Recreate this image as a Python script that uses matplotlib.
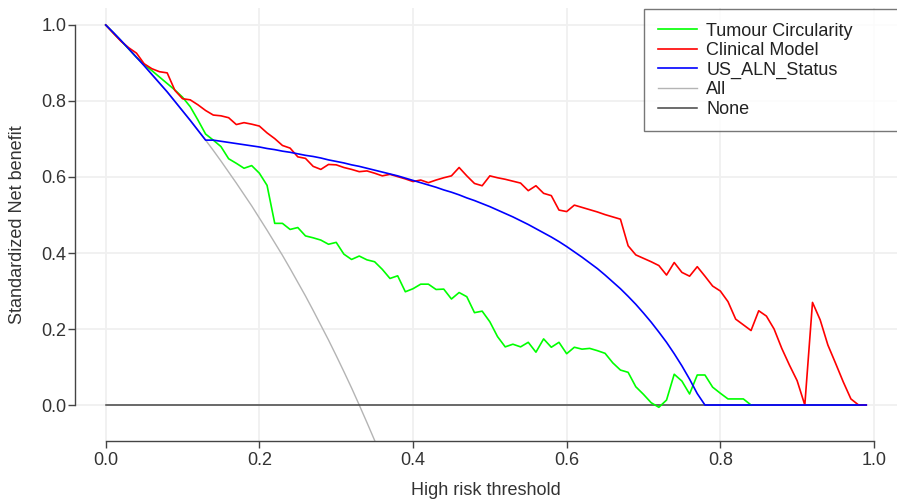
import matplotlib
matplotlib.use("Agg")
import matplotlib.pyplot as plt
import numpy as np

plt.rcParams["font.family"] = ["Liberation Sans", "DejaVu Sans"]

# thresholds 0.00 .. 0.99 in steps of 0.01
thresholds = [round(i * 0.01, 2) for i in range(100)]

tumour_circ = [
    1.000, 0.979, 0.958, 0.937, 0.915, 0.896, 0.880, 0.863, 0.846, 0.829,
    0.810, 0.785, 0.750, 0.713, 0.697, 0.680, 0.648, 0.636, 0.623, 0.630,
    0.610, 0.578, 0.478, 0.478, 0.462, 0.467, 0.445, 0.440, 0.434, 0.423,
    0.428, 0.397, 0.383, 0.392, 0.382, 0.377, 0.357, 0.333, 0.340, 0.298,
    0.306, 0.318, 0.318, 0.304, 0.305, 0.279, 0.296, 0.285, 0.243, 0.247,
    0.219, 0.180, 0.153, 0.160, 0.153, 0.165, 0.139, 0.174, 0.152, 0.165,
    0.135, 0.152, 0.147, 0.149, 0.143, 0.136, 0.111, 0.092, 0.086, 0.048,
    0.028, 0.006, -0.006, 0.013, 0.081, 0.063, 0.029, 0.079, 0.079, 0.047,
    0.031, 0.016, 0.016, 0.016, 0.000,
]

clinical = [
    1.000, 0.978, 0.957, 0.940, 0.926, 0.898, 0.885, 0.877, 0.874, 0.828,
    0.806, 0.803, 0.790, 0.775, 0.763, 0.761, 0.756, 0.738, 0.743, 0.739,
    0.734, 0.716, 0.701, 0.683, 0.676, 0.653, 0.649, 0.628, 0.620, 0.633,
    0.632, 0.625, 0.620, 0.614, 0.616, 0.610, 0.603, 0.607, 0.601, 0.595,
    0.588, 0.592, 0.585, 0.592, 0.598, 0.603, 0.625, 0.603, 0.583, 0.577,
    0.603, 0.598, 0.594, 0.589, 0.584, 0.564, 0.577, 0.557, 0.551, 0.513,
    0.509, 0.526, 0.520, 0.514, 0.508, 0.501, 0.495, 0.489, 0.419, 0.395,
    0.386, 0.377, 0.367, 0.342, 0.375, 0.349, 0.339, 0.364, 0.339, 0.313,
    0.300, 0.272, 0.226, 0.211, 0.196, 0.248, 0.234, 0.200, 0.149, 0.105,
    0.064, 0.000, 0.270, 0.224, 0.158, 0.110, 0.061, 0.016, 0.000, 0.000,
]

us_aln = [
    1.000, 0.980, 0.959, 0.937, 0.915, 0.893, 0.870, 0.847, 0.824, 0.799,
    0.774, 0.749, 0.723, 0.697, 0.697, 0.694, 0.691, 0.688, 0.685, 0.682,
    0.679, 0.675, 0.672, 0.668, 0.665, 0.661, 0.657, 0.654, 0.650, 0.645,
    0.641, 0.637, 0.632, 0.628, 0.623, 0.618, 0.613, 0.608, 0.603, 0.597,
    0.591, 0.585, 0.579, 0.573, 0.566, 0.560, 0.553, 0.545, 0.538, 0.530,
    0.522, 0.513, 0.504, 0.495, 0.485, 0.475, 0.464, 0.453, 0.442, 0.430,
    0.417, 0.403, 0.389, 0.374, 0.359, 0.342, 0.324, 0.306, 0.286, 0.265,
    0.242, 0.218, 0.192, 0.165, 0.135, 0.103, 0.068, 0.030, 0.000, 0.000,
    0.000, 0.000, 0.000, 0.000, 0.000, 0.000, 0.000, 0.000, 0.000, 0.000,
    0.000, 0.000, 0.000, 0.000, 0.000, 0.000, 0.000, 0.000, 0.000, 0.000,
]

treat_all = [
    1.000, 0.980, 0.959, 0.937, 0.915, 0.893, 0.870, 0.847, 0.824, 0.799,
    0.774, 0.749, 0.723, 0.697, 0.670, 0.642, 0.613, 0.584, 0.554, 0.524,
    0.492, 0.460, 0.427, 0.394, 0.359, 0.323, 0.287, 0.249, 0.210, 0.171,
    0.130, 0.088, 0.045, 0.000, -0.046, -0.093, -0.142,
]

treat_none = [0.0] * 100

series = [
    ("Tumour Circularity", tumour_circ, "#00ff00"),
    ("Clinical Model", clinical, "#ff0000"),
    ("US_ALN_Status", us_aln, "#0000ff"),
]

fig = plt.figure(figsize=(8.97, 5.01), dpi=100)
ax = fig.add_axes([75 / 897, 60 / 501, 822 / 897, 433 / 501])

ax.set_xlim(-0.04, 1.03)
ax.set_ylim(-0.0947, 1.0447)

ticks = np.arange(0, 1.01, 0.2)
for t in ticks:
    ax.axvline(t, color="#f0f0f0", lw=1.3, zorder=0)
    ax.axhline(t, color="#f0f0f0", lw=1.3, zorder=0)

l_all, = ax.plot(thresholds[:len(treat_all)], treat_all, color="#b4b4b4", lw=1.0)
l_none, = ax.plot(thresholds, treat_none, color="#444444", lw=1.1)

handles = []
for name, vals, col in series:
    h, = ax.plot(thresholds[:len(vals)], vals, color=col, lw=1.2, label=name)
    handles.append(h)

l_all.set_label("All")
l_none.set_label("None")
handles += [l_all, l_none]

for s in ["top", "right"]:
    ax.spines[s].set_visible(False)
ax.spines["left"].set_bounds(0, 1)
ax.spines["bottom"].set_bounds(0, 1)
for s in ["left", "bottom"]:
    ax.spines[s].set_color("#444444")
    ax.spines[s].set_linewidth(1.0)

ax.set_xticks(ticks)
ax.set_yticks(ticks)
ax.set_xticklabels(["%.1f" % t for t in ticks])
ax.set_yticklabels(["%.1f" % t for t in ticks])
ax.tick_params(axis="both", length=5, width=1.0, color="#444444",
               labelsize=13, labelcolor="#333333")
ax.tick_params(axis="y", pad=1)
ax.tick_params(axis="x", pad=3)

ax.set_xlabel("High risk threshold", fontsize=13, color="#333333", labelpad=9)
ax.set_ylabel("Standardized Net benefit", fontsize=13, color="#333333", labelpad=11)

leg = fig.legend(handles=handles, loc="upper left",
                 bbox_to_anchor=(644 / 897, 1 - 9 / 501, 0.3, 0),
                 mode="expand", frameon=True, fancybox=False,
                 edgecolor="#555555", fontsize=13, labelspacing=0.14,
                 handlelength=2.2, handletextpad=0.5, borderaxespad=0,
                 borderpad=0.75)
leg.get_frame().set_linewidth(1.0)
for txt in leg.get_texts():
    txt.set_color("#222222")

fig.savefig("out.png", dpi=100)
